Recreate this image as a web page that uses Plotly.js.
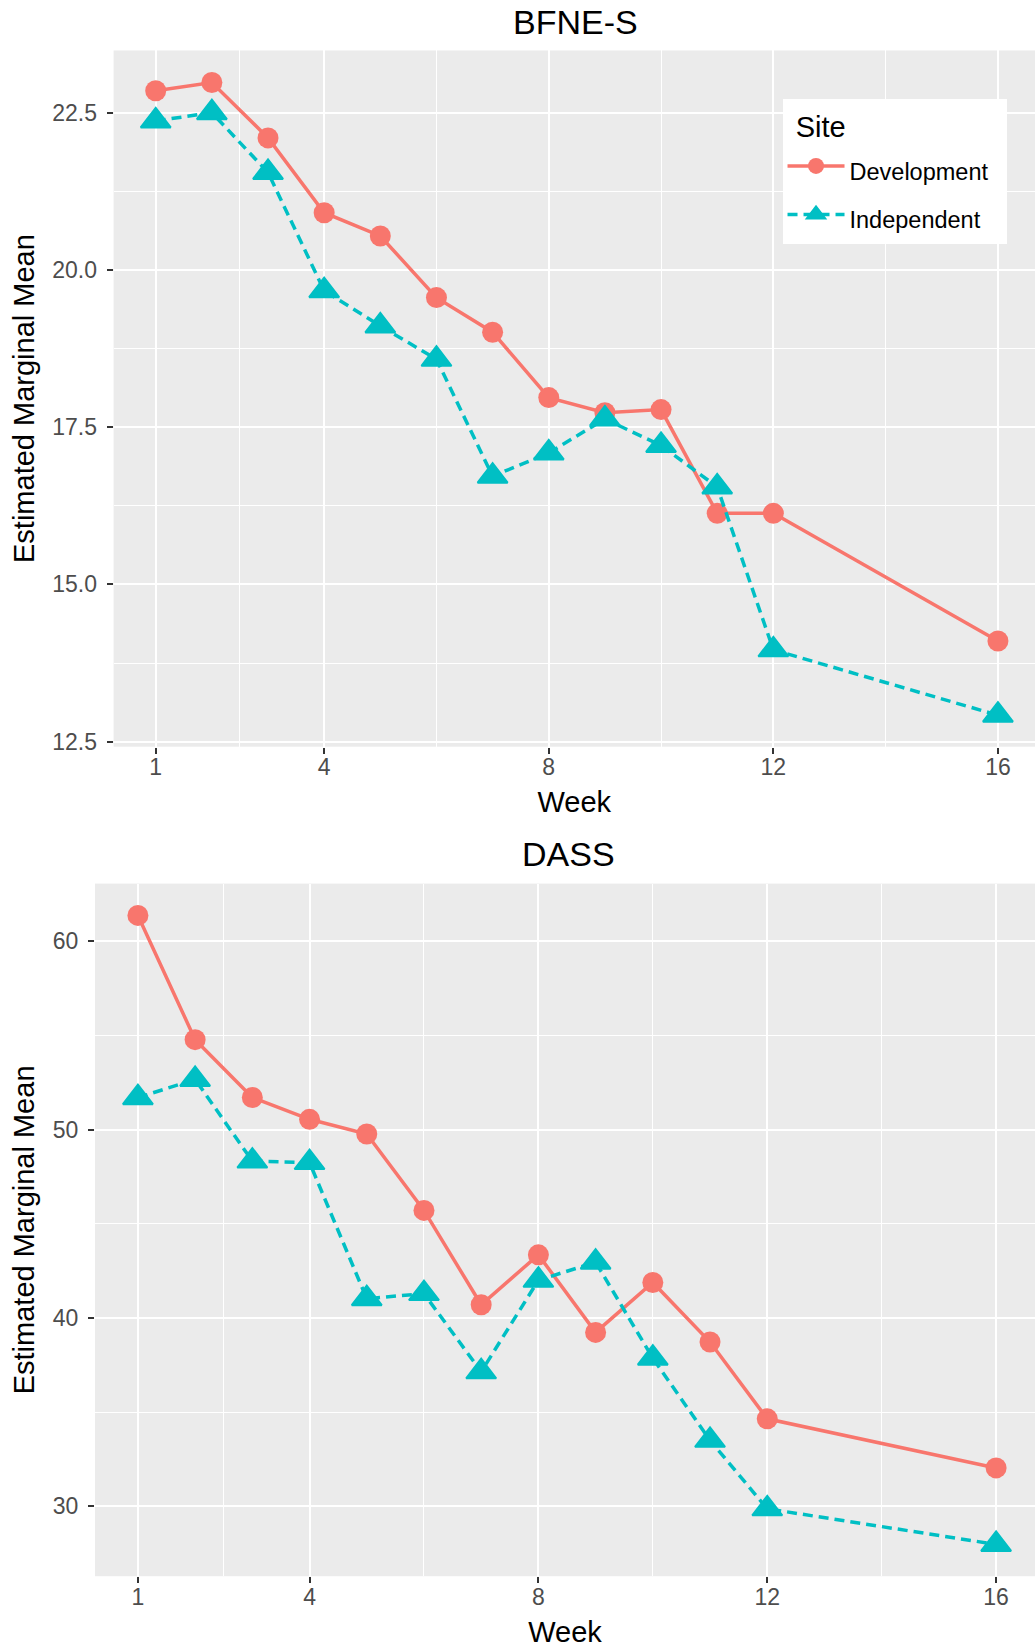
<!DOCTYPE html>
<html>
<head>
<meta charset="utf-8">
<script src="https://cdn.plot.ly/plotly-3.0.1.min.js"></script>
<style>
  html, body { margin: 0; padding: 0; background: #ffffff; }
  #chart { width: 1035px; height: 1649px; }
</style>
</head>
<body>
<div id="chart"></div>
<script>
// ---- data ----
const weeks = [1, 2, 3, 4, 5, 6, 7, 8, 9, 10, 11, 12, 16];
const siteNames = ["Development", "Independent"];

const bfneDevelopment = [22.85, 22.98, 22.10, 20.91, 20.54, 19.56, 19.01, 17.97, 17.73, 17.78, 16.13, 16.13, 14.10];
const bfneIndependent = [22.37, 22.50, 21.55, 19.67, 19.11, 18.58, 16.72, 17.09, 17.63, 17.21, 16.55, 13.96, 12.92];

const dassDevelopment = [61.38, 54.78, 51.71, 50.55, 49.77, 45.71, 40.70, 43.35, 39.23, 41.88, 38.72, 34.64, 32.03];
const dassIndependent = [51.70, 52.67, 48.33, 48.25, 41.02, 41.29, 37.14, 42.00, 42.96, 37.86, 33.50, 29.86, 27.97];

const xTickVals = [1, 4, 8, 12, 16];
const xMinorVals = [2.5, 6, 10, 14];
const bfneTickVals = [12.5, 15, 17.5, 20, 22.5];
const bfneMinorVals = [13.75, 16.25, 18.75, 21.25];
const dassTickVals = [30, 40, 50, 60];
const dassMinorVals = [35, 45, 55];

const panelTitles = ["BFNE-S", "DASS"];
const xTitle = "Week";
const yTitle = "Estimated Marginal Mean";
const legendTitle = "Site";

// ---- styles ----
const devColor = "#F8766D";
const indColor = "#00BFC4";
const FONT = "Liberation Sans, Arial, Helvetica, sans-serif";

function legendLabel(s) {
  return '<span style="font-size:23.5px">' + s + '  </span>';
}

function devTrace(y, xa, ya, show) {
  return {
    x: weeks, y: y, xaxis: xa, yaxis: ya, type: "scatter", mode: "lines+markers",
    name: legendLabel(siteNames[0]), legendgroup: "dev", showlegend: show,
    line: { color: devColor, width: 3.5 },
    marker: { symbol: "circle", size: 21, color: devColor }
  };
}
function indTrace(y, xa, ya, show) {
  return {
    x: weeks, y: y, xaxis: xa, yaxis: ya, type: "scatter", mode: "lines+markers",
    name: legendLabel(siteNames[1]), legendgroup: "ind", showlegend: show,
    line: { color: indColor, width: 3.5, dash: "10px,6px" },
    marker: { symbol: "triangle-up", size: 26, color: indColor, line: { color: indColor, width: 2 } }
  };
}

const data = [
  devTrace(bfneDevelopment, "x", "y", true),
  indTrace(bfneIndependent, "x", "y", true),
  devTrace(dassDevelopment, "x2", "y2", false),
  indTrace(dassIndependent, "x2", "y2", false)
];

const tickFont = { family: FONT, size: 23, color: "#4D4D4D" };
const axTitleFont = { family: FONT, size: 29, color: "#000000" };

function xAxis(domain, range, anchor) {
  return {
    domain: domain, range: range, anchor: anchor,
    tickmode: "array", tickvals: xTickVals,
    ticks: "outside", ticklen: 6, tickwidth: 2, tickcolor: "#333333",
    tickfont: tickFont, ticklabelstandoff: -6,
    showgrid: true, gridcolor: "#FFFFFF", gridwidth: 2,
    minor: { tickmode: "array", tickvals: xMinorVals, showgrid: true, gridcolor: "#FFFFFF", gridwidth: 1, ticks: "" },
    zeroline: false, showline: false, fixedrange: true,
    title: { text: xTitle, font: axTitleFont, standoff: 12 }
  };
}
function yAxis(domain, range, anchor, tv, mv, fmt, standoff) {
  return {
    domain: domain, range: range, anchor: anchor,
    tickmode: "array", tickvals: tv, tickformat: fmt,
    ticks: "outside", ticklen: 6, tickwidth: 2, tickcolor: "#333333",
    tickfont: tickFont, ticklabelstandoff: 5,
    showgrid: true, gridcolor: "#FFFFFF", gridwidth: 2,
    minor: { tickmode: "array", tickvals: mv, showgrid: true, gridcolor: "#FFFFFF", gridwidth: 1, ticks: "" },
    zeroline: false, showline: false, fixedrange: true,
    title: { text: yTitle, font: axTitleFont, standoff: standoff }
  };
}

const layout = {
  width: 1035, height: 1649,
  margin: { l: 95, r: 0, t: 0, b: 0, pad: 0 },
  paper_bgcolor: "#FFFFFF",
  plot_bgcolor: "#EBEBEB",
  font: { family: FONT, color: "#000000" },
  showlegend: true,
  xaxis: xAxis([0.0198, 1], [0.25, 16.66], "y"),
  yaxis: yAxis([0.5472, 0.9694], [12.42, 23.49], "x", bfneTickVals, bfneMinorVals, ".1f", 9),
  xaxis2: xAxis([0, 1], [0.25, 16.68], "y2"),
  yaxis2: yAxis([0.04415, 0.46416], [26.28, 63.07], "x2", dassTickVals, dassMinorVals, "d", 9),
  legend: {
    x: 0.7314, y: 0.94, xanchor: "left", yanchor: "top",
    bgcolor: "#FFFFFF", borderwidth: 0,
    font: { family: FONT, size: 35, color: "#000000" },
    title: { text: '<span style="font-size:20px">  </span>' + legendTitle, font: { family: FONT, size: 29, color: "#000000" } },
    tracegroupgap: 0, traceorder: "normal", itemsizing: "trace", itemwidth: 57
  },
  annotations: [
    { text: panelTitles[0], xref: "paper", yref: "paper", x: 0.5117, y: 1 - 22 / 1649,
      xanchor: "center", yanchor: "middle", showarrow: false,
      font: { family: FONT, size: 34, color: "#000000" } },
    { text: panelTitles[1], xref: "paper", yref: "paper", x: 0.5032, y: 1 - 854 / 1649,
      xanchor: "center", yanchor: "middle", showarrow: false,
      font: { family: FONT, size: 34, color: "#000000" } }
  ]
};

Plotly.newPlot("chart", data, layout, { displayModeBar: false, staticPlot: true });
</script>
</body>
</html>
